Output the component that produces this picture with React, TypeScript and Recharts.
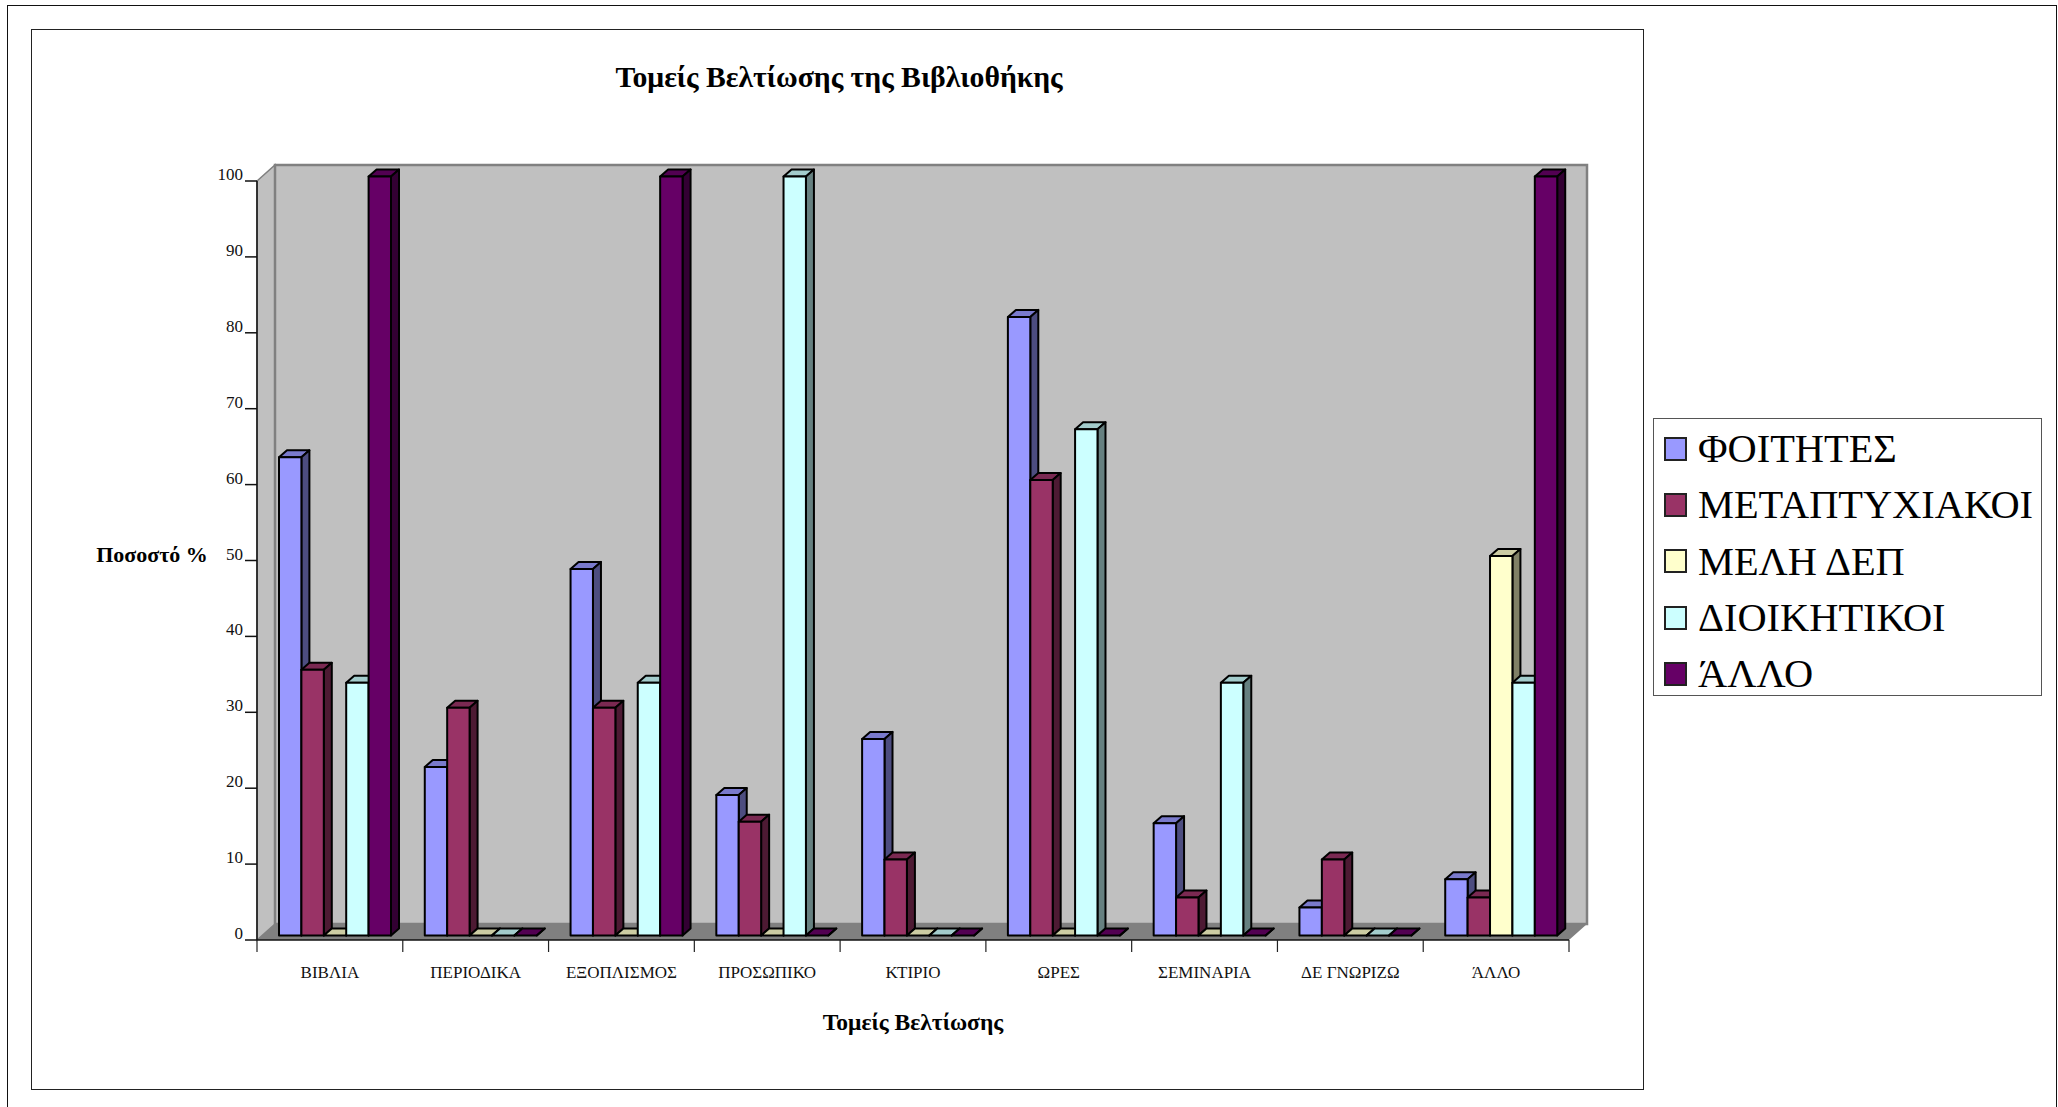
import { Bar, BarChart, CartesianGrid, Legend, XAxis, YAxis, usePlotArea } from 'recharts';

const categories = ['ΒΙΒΛΙΑ', 'ΠΕΡΙΟΔΙΚΑ', 'ΕΞΟΠΛΙΣΜΟΣ', 'ΠΡΟΣΩΠΙΚΟ', 'ΚΤΙΡΙΟ', 'ΩΡΕΣ', 'ΣΕΜΙΝΑΡΙΑ', 'ΔΕ ΓΝΩΡΙΖΩ', 'ΆΛΛΟ'];
const foitites = [63, 22.2, 48.3, 18.5, 25.9, 81.5, 14.8, 3.7, 7.4];
const metaptyxiakoi = [35, 30, 30, 15, 10, 60, 5, 10, 5];
const meliDep = [0, 0, 0, 0, 0, 0, 0, 0, 50];
const dioikitikoi = [33.3, 0, 33.3, 100, 0, 66.7, 33.3, 0, 33.3];
const allo = [100, 0, 100, 0, 0, 0, 0, 0, 100];
const yTicks = [0, 10, 20, 30, 40, 50, 60, 70, 80, 90, 100];

const data = categories.map((name, i) => ({
  name,
  foitites: foitites[i],
  metaptyxiakoi: metaptyxiakoi[i],
  meliDep: meliDep[i],
  dioikitikoi: dioikitikoi[i],
  allo: allo[i],
}));

const series = [
  { key: 'foitites', label: 'ΦΟΙΤΗΤΕΣ', front: '#9999ff', top: '#7a7acc', side: '#4d4d80' },
  { key: 'metaptyxiakoi', label: 'ΜΕΤΑΠΤΥΧΙΑΚΟΙ', front: '#993366', top: '#7a2952', side: '#4d1a33' },
  { key: 'meliDep', label: 'ΜΕΛΗ ΔΕΠ', front: '#ffffcc', top: '#ccccA3', side: '#808066' },
  { key: 'dioikitikoi', label: 'ΔΙΟΙΚΗΤΙΚΟΙ', front: '#ccffff', top: '#a3cccc', side: '#668080' },
  { key: 'allo', label: 'ΆΛΛΟ', front: '#660066', top: '#520052', side: '#330033' },
];

const FONT = '"Liberation Serif", serif';
const WALL_DX = 18;
const WALL_DY = 16;
const BAR_DX = 8;
const BAR_DY = 7;

// the grey box behind the bars
const Walls = () => {
  const plot = usePlotArea();
  if (!plot) return null;
  const { x, y, width, height } = plot;
  const r = x + width;
  const b = y + height;
  return (
    <g>
      <polygon points={`${x},${y} ${x + WALL_DX},${y - WALL_DY} ${x + WALL_DX},${b - WALL_DY} ${x},${b}`} fill="#c0c0c0" stroke="#808080" strokeWidth={1.5} />
      <rect x={x + WALL_DX} y={y - WALL_DY} width={width} height={height} fill="#c0c0c0" stroke="#808080" strokeWidth={2.5} />
      <polygon points={`${x},${b} ${r},${b} ${r + WALL_DX},${b - WALL_DY} ${x + WALL_DX},${b - WALL_DY}`} fill="#808080" />
    </g>
  );
};

const gridLine = (props: any) => {
  const { x1, x2, y1, key, index } = props;
  if (index === 0 || index === yTicks.length - 1) return <g key={key ?? `g${y1}`} />;
  return (
    <g key={key ?? `g${y1}`}>
      <line x1={x1} y1={y1} x2={x1 + WALL_DX} y2={y1 - WALL_DY} stroke="#222" strokeWidth={1} />
      <line x1={x1 + WALL_DX} y1={y1 - WALL_DY} x2={x2 + WALL_DX} y2={y1 - WALL_DY} stroke="#333" strokeWidth={1.2} />
    </g>
  );
};

const bar3d = (front: string, top: string, side: string) => (props: any) => {
  const x = props.x + 5;
  const y = props.y - 4.5;
  const w = props.width;
  const h = props.height;
  return (
    <g stroke="#000" strokeWidth={2} strokeLinejoin="round">
      <polygon points={`${x},${y} ${x + BAR_DX},${y - BAR_DY} ${x + w + BAR_DX},${y - BAR_DY} ${x + w},${y}`} fill={top} />
      <polygon points={`${x + w},${y} ${x + w + BAR_DX},${y - BAR_DY} ${x + w + BAR_DX},${y + h - BAR_DY} ${x + w},${y + h}`} fill={side} />
      <rect x={x} y={y} width={w} height={h} fill={front} />
    </g>
  );
};

const CategoryTick = (props: any) => {
  const { x, y, payload, index, width } = props;
  const band = width / categories.length;
  return (
    <g>
      <line x1={x - band / 2} x2={x - band / 2} y1={y - 8} y2={y + 4} stroke="#222" strokeWidth={1.2} />
      {index === categories.length - 1 && (
        <line x1={x + band / 2} x2={x + band / 2} y1={y - 8} y2={y + 4} stroke="#222" strokeWidth={1.2} />
      )}
      <text x={x} y={y + 30} textAnchor="middle" fontFamily={FONT} fontSize={17} fill="#111">
        {payload.value}
      </text>
    </g>
  );
};

const ValueTick = (props: any) => {
  const { x, y, payload } = props;
  return (
    <text x={x} y={y - 1} textAnchor="end" fontFamily={FONT} fontSize={17} fill="#111">
      {payload.value}
    </text>
  );
};

const LegendBox = () => (
  <div
    style={{
      width: 389,
      height: 278,
      border: '1.5px solid #555',
      boxSizing: 'border-box',
      padding: '1.5px 0 0 10px',
      background: '#fff',
    }}
  >
    {series.map((s) => (
      <div key={s.key} style={{ display: 'flex', alignItems: 'center', height: 56.3, fontFamily: FONT, fontSize: 40.4, color: '#000' }}>
        <span style={{ width: 23, height: 24, background: s.front, border: '2px solid #222', boxSizing: 'border-box', marginRight: 11 }} />
        {s.label}
      </div>
    ))}
  </div>
);

export default function App() {
  return (
    <div style={{ position: 'absolute', left: 0, top: 0, width: 2058, height: 1107, background: '#fff', overflow: 'hidden' }}>
      <div style={{ position: 'absolute', left: 7, top: 5, width: 2050, height: 1110, border: '1.5px solid #111', boxSizing: 'border-box' }} />
      <div style={{ position: 'absolute', left: 31, top: 29, width: 1613, height: 1061, border: '1.5px solid #222', boxSizing: 'border-box' }} />
      <BarChart
        width={2058}
        height={1107}
        data={data}
        margin={{ top: 181, right: 489, bottom: 107, left: 197 }}
        barSize={22.4}
        barGap={0}
        style={{ position: 'absolute', left: 0, top: 0 }}
      >
        <Walls />
        <CartesianGrid vertical={false} horizontal={gridLine} />
        <XAxis dataKey="name" height={60} interval={0} tickLine={false} stroke="#111" strokeWidth={1.5} tick={<CategoryTick />} />
        <YAxis width={60} domain={[0, 100]} ticks={yTicks} tickSize={12} stroke="#111" strokeWidth={1.5} tick={<ValueTick />} />
        {series.map((s) => (
          <Bar key={s.key} dataKey={s.key} name={s.label} isAnimationActive={false} shape={bar3d(s.front, s.top, s.side)} />
        ))}
        <Legend content={<LegendBox />} layout="vertical" align="center" verticalAlign="middle" wrapperStyle={{ position: 'absolute', left: 1653, top: 418, width: 389, height: 278 }} />
        <text x={839} y={87} textAnchor="middle" fontFamily={FONT} fontSize={29.7} fontWeight="bold" fill="#000">
          Τομείς Βελτίωσης της Βιβλιοθήκης
        </text>
        <text x={152} y={562} textAnchor="middle" fontFamily={FONT} fontSize={22} fontWeight="bold" fill="#000">
          Ποσοστό %
        </text>
        <text x={913} y={1030} textAnchor="middle" fontFamily={FONT} fontSize={23.5} fontWeight="bold" fill="#000">
          Τομείς Βελτίωσης
        </text>
      </BarChart>
    </div>
  );
}
